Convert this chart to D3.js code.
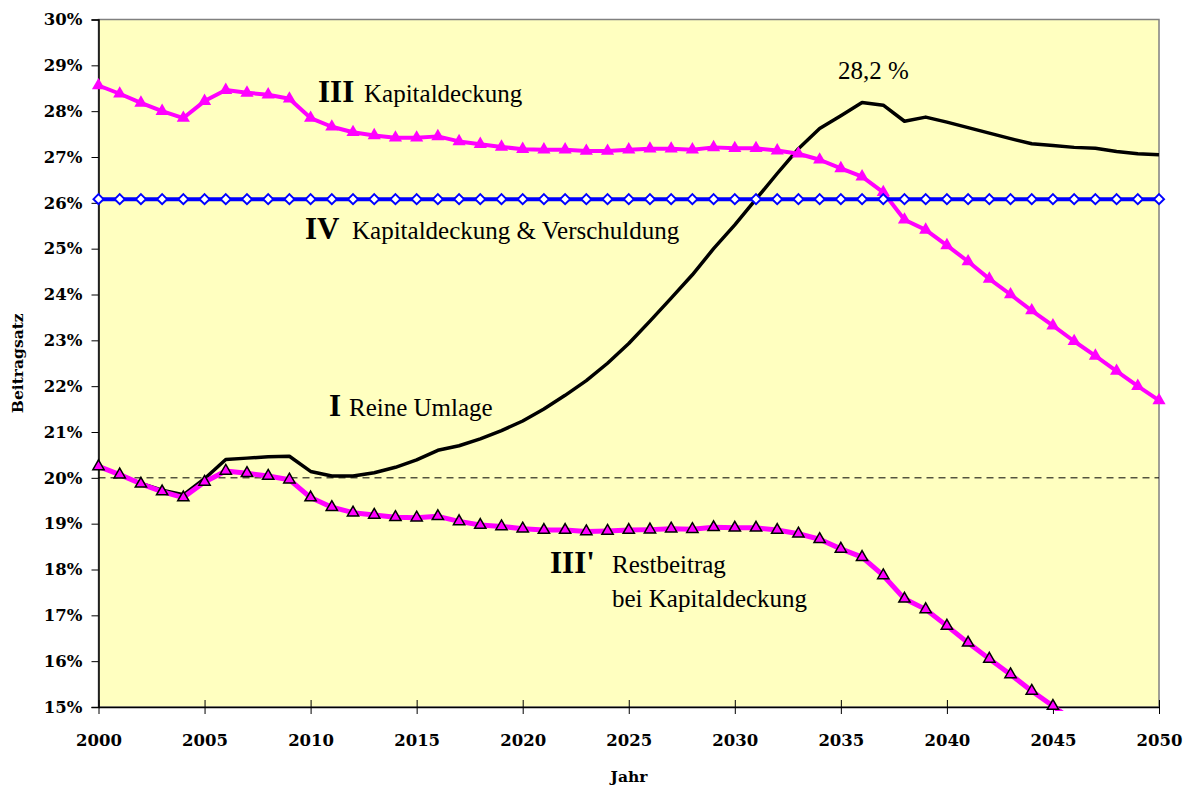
<!DOCTYPE html>
<html>
<head>
<meta charset="utf-8">
<script src="https://cdn.jsdelivr.net/npm/d3@7"></script>
<style>
  body { margin: 0; background: #fff; }
  svg { display: block; }
</style>
</head>
<body>
<svg id="chart" width="1191" height="787"></svg>
<script>
// Beitragssatz 2000-2050
const years = d3.range(2000, 2051);

// I Reine Umlage
const umlage = [20.25, 20.07, 19.88, 19.73, 19.63, 19.98, 20.40, 20.43, 20.46, 20.47,
  20.14, 20.04, 20.04, 20.11, 20.23, 20.39, 20.60, 20.70, 20.85, 21.03,
  21.24, 21.50, 21.80, 22.12, 22.50, 22.93, 23.42, 23.92, 24.43, 25.00,
  25.52, 26.08, 26.64, 27.18, 27.62, 27.90, 28.19, 28.13, 27.78, 27.87,
  27.76, 27.64, 27.52, 27.40, 27.29, 27.25, 27.21, 27.19, 27.12, 27.07, 27.05];

// III Kapitaldeckung
const kapital = [28.56, 28.38, 28.18, 28.00, 27.85, 28.22, 28.46, 28.40, 28.36, 28.27,
  27.85, 27.66, 27.54, 27.47, 27.42, 27.42, 27.45, 27.34, 27.28, 27.22,
  27.17, 27.16, 27.16, 27.13, 27.13, 27.16, 27.18, 27.18, 27.16, 27.21,
  27.19, 27.19, 27.14, 27.07, 26.94, 26.75, 26.57, 26.23, 25.63, 25.41,
  25.07, 24.72, 24.34, 24.00, 23.65, 23.32, 22.98, 22.66, 22.33, 22.00, 21.69];

// IV Kapitaldeckung & Verschuldung
const verschuldung = [26.08, 26.08, 26.08, 26.08, 26.08, 26.08, 26.08, 26.08, 26.08, 26.08,
  26.08, 26.08, 26.08, 26.08, 26.08, 26.08, 26.08, 26.08, 26.08, 26.08,
  26.08, 26.08, 26.08, 26.08, 26.08, 26.08, 26.08, 26.08, 26.08, 26.08,
  26.08, 26.08, 26.08, 26.08, 26.08, 26.08, 26.08, 26.08, 26.08, 26.08,
  26.08, 26.08, 26.08, 26.08, 26.08, 26.08, 26.08, 26.08, 26.08, 26.08, 26.08];

// III' Restbeitrag bei Kapitaldeckung (runs off the bottom after 2045)
const rest = [20.25, 20.07, 19.87, 19.70, 19.57, 19.91, 20.15, 20.10, 20.04, 19.96,
  19.57, 19.36, 19.24, 19.19, 19.14, 19.13, 19.16, 19.05, 18.97, 18.94,
  18.89, 18.86, 18.86, 18.83, 18.84, 18.86, 18.87, 18.89, 18.88, 18.92,
  18.91, 18.91, 18.86, 18.78, 18.66, 18.45, 18.27, 17.87, 17.36, 17.13,
  16.77, 16.40, 16.05, 15.71, 15.35, 15.02, 14.68];

const yTicks = d3.range(15, 31);
const xTicks = [2000, 2005, 2010, 2015, 2020, 2025, 2030, 2035, 2040, 2045, 2050];

const plot = { left: 98.5, right: 1159, top: 19.5, bottom: 707 };
const serif = "'Liberation Serif', 'Times New Roman', serif";
const axisFont = "'DejaVu Serif', serif";

const svg = d3.select('#chart');

const x = d3.scaleLinear().domain([2000, 2050]).range([plot.left, plot.right]);
const y = d3.scaleLinear().domain([15, 30]).range([plot.bottom, plot.top]);

// plot background + grey frame top/right
svg.append('rect')
  .attr('x', plot.left).attr('y', plot.top)
  .attr('width', plot.right - plot.left).attr('height', plot.bottom - plot.top)
  .attr('fill', '#FFFFC0')
  .attr('stroke', '#808080').attr('stroke-width', 1.5);

svg.append('clipPath').attr('id', 'clip')
  .append('rect')
  .attr('x', plot.left - 10).attr('y', plot.top - 10)
  .attr('width', plot.right - plot.left + 20).attr('height', plot.bottom - plot.top + 14);

// dashed 20% reference line
svg.append('line')
  .attr('x1', plot.left).attr('x2', plot.right)
  .attr('y1', y(20)).attr('y2', y(20))
  .attr('stroke', '#000').attr('stroke-width', 1)
  .attr('stroke-dasharray', '7,5');

// axes
const yAxis = svg.append('g')
  .attr('transform', `translate(${plot.left},0)`)
  .call(d3.axisLeft(y).tickValues(yTicks).tickSize(7).tickPadding(9).tickFormat(d => d + '%'));
yAxis.select('.domain').attr('stroke', '#000').attr('stroke-width', 1.5);
yAxis.selectAll('.tick line').attr('stroke', '#000');
yAxis.selectAll('text')
  .attr('font-family', axisFont).attr('font-weight', 'bold')
  .attr('font-size', '16.5px').attr('fill', '#000');

const xAxis = svg.append('g')
  .attr('transform', `translate(0,${plot.bottom})`)
  .call(d3.axisBottom(x).tickValues(xTicks).tickSizeInner(7).tickSizeOuter(0).tickPadding(20).tickFormat(d3.format('d')));
xAxis.select('.domain').attr('stroke', '#000').attr('stroke-width', 1.5);
xAxis.selectAll('.tick line').attr('y1', -7).attr('stroke', '#000');
xAxis.selectAll('text')
  .attr('font-family', axisFont).attr('font-weight', 'bold')
  .attr('font-size', '16.5px').attr('fill', '#000');

// axis titles
svg.append('text')
  .attr('transform', `translate(23,${(plot.top + plot.bottom) / 2}) rotate(-90)`)
  .attr('text-anchor', 'middle')
  .attr('font-family', axisFont).attr('font-weight', 'bold').attr('font-size', '15.5px')
  .text('Beitragsatz');

svg.append('text')
  .attr('x', 629).attr('y', 782)
  .attr('text-anchor', 'middle')
  .attr('font-family', axisFont).attr('font-weight', 'bold').attr('font-size', '15.5px')
  .text('Jahr');

// series
const lineGen = d3.line().x(d => x(d[0])).y(d => y(d[1]));
const pairs = vals => vals.map((v, i) => [years[i], v]);

const series = svg.append('g');

function drawLine(vals, color, width) {
  series.append('path')
    .datum(pairs(vals))
    .attr('d', lineGen)
    .attr('fill', 'none')
    .attr('stroke', color)
    .attr('stroke-width', width)
    .attr('stroke-linejoin', 'round')
    .attr('clip-path', 'url(#clip)');
}

function drawMarkers(vals, symbol, size, fill, stroke, sw) {
  series.append('g')
    .selectAll('path')
    .data(pairs(vals).filter(d => d[1] >= 15 - 0.05))
    .enter()
    .append('path')
    .attr('transform', d => `translate(${x(d[0])},${y(d[1])})`)
    .attr('d', d3.symbol().type(symbol).size(size))
    .attr('fill', fill)
    .attr('stroke', stroke)
    .attr('stroke-width', sw);
}

const diamond = {
  draw(ctx, size) {
    const r = Math.sqrt(size) / 2;
    ctx.moveTo(0, -r); ctx.lineTo(r, 0); ctx.lineTo(0, r); ctx.lineTo(-r, 0); ctx.closePath();
  }
};

drawLine(umlage, '#000', 3.5);

drawLine(rest, '#FF00FF', 5);
drawMarkers(rest, d3.symbolTriangle, 55, '#FF00FF', '#000', 1.5);

drawLine(kapital, '#FF00FF', 4);
drawMarkers(kapital, d3.symbolTriangle, 75, '#FF00FF', 'none', 0);

drawLine(verschuldung, '#0000FF', 4);
drawMarkers(verschuldung, diamond, 100, '#fff', '#0000FF', 2);

// annotations
function label(xp, yp, bold, normal, normalX) {
  svg.append('text')
    .attr('x', xp).attr('y', yp)
    .attr('font-family', serif).attr('font-weight', 'bold').attr('font-size', '31px')
    .text(bold);
  svg.append('text')
    .attr('x', normalX).attr('y', yp)
    .attr('font-family', serif).attr('font-size', '25px')
    .text(normal);
}

label(318, 102, 'III', 'Kapitaldeckung', 364);
label(305, 239, 'IV', 'Kapitaldeckung & Verschuldung', 352);
label(329, 416, 'I', 'Reine Umlage', 349);
label(550, 573, "III'", 'Restbeitrag', 612);

svg.append('text')
  .attr('x', 612).attr('y', 607)
  .attr('font-family', serif).attr('font-size', '25px')
  .text('bei Kapitaldeckung');

svg.append('text')
  .attr('x', 838).attr('y', 79)
  .attr('font-family', serif).attr('font-size', '25px')
  .text('28,2 %');
</script>
</body>
</html>
